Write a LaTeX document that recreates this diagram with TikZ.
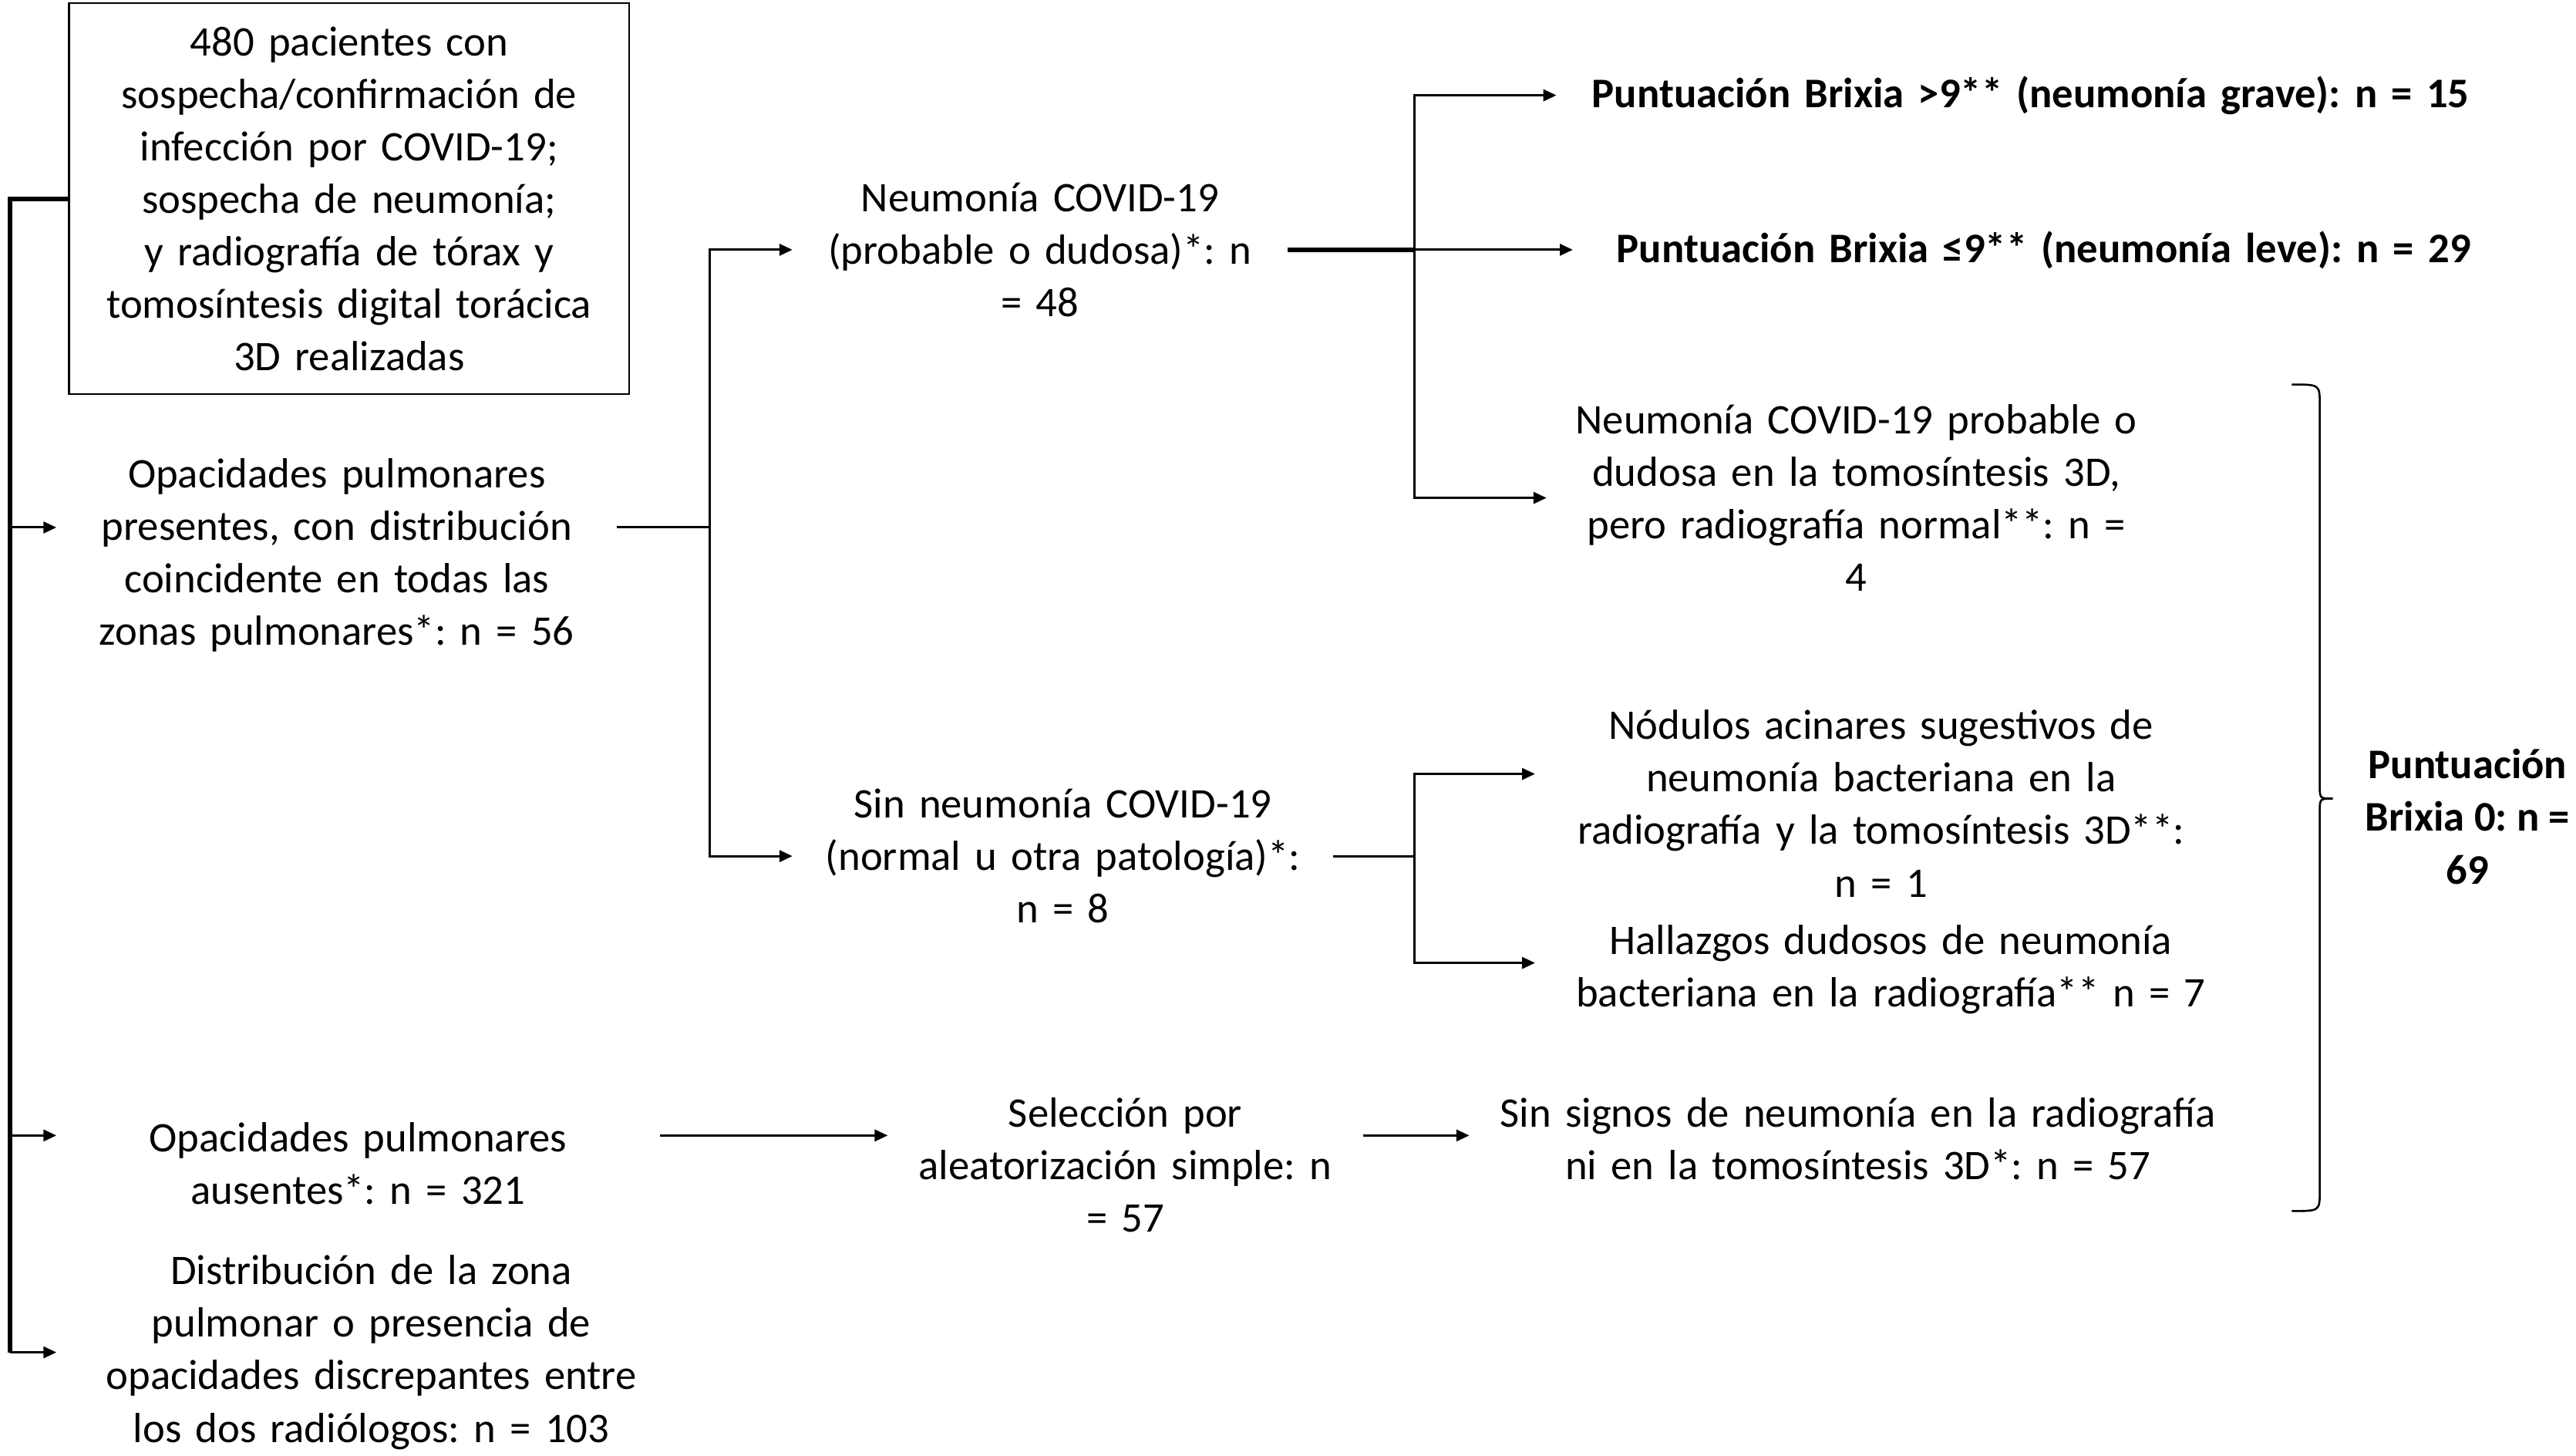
\documentclass[tikz,border=0pt]{standalone}
\usepackage{fontspec}
\setmainfont{Carlito}
\frenchspacing
\usetikzlibrary{arrows.meta,calc}

\begin{document}
\begin{tikzpicture}[x=0.02cm, y=-0.02cm, thick,
		>={Triangle[length=4.5pt,width=4pt]},
		box node/.style={draw,line width=0.6pt,align=center,inner sep=0pt,minimum width=6.82cm,minimum height=4.76cm,text width=6.6cm,font=\fontsize{14.6}{18.2}\selectfont},
		text node/.style={align=center,inner sep=0pt,font=\fontsize{14.6}{18.2}\selectfont},
		bold node/.style={text node,font=\fontsize{14.6}{18.2}\selectfont\bfseries},
		heavy line/.style={line width=1.5pt}]

		\useasboundingbox (0,0) rectangle (1568,886);

		\node[box node] (A) at (212.5,121) {480 pacientes con\\ sospecha/confirmación de\\ infección por COVID-19;\\ sospecha de neumonía;\\ y radiografía de tórax y\\ tomosíntesis digital torácica\\ 3D realizadas};
		\node[text node, text width=6.8cm] (B) at (205,338) {Opacidades pulmonares\\ presentes, con distribución\\ coincidente en todas las\\ zonas pulmonares*: n = 56};
		\node[text node, text width=7.32cm] (C) at (218,708) {Opacidades pulmonares\\ ausentes*: n = 321};
		\node[text node, text width=7.64cm] (D) at (226,823) {Distribución de la zona\\ pulmonar o presencia de\\ opacidades discrepantes entre\\ los dos radiólogos: n = 103};
		\node[text node, text width=6cm] (E) at (633,152) {Neumonía COVID-19\\ (probable o dudosa)*: n\\ = 48};
		\node[text node, text width=6.56cm] (F) at (647,521) {Sin neumonía COVID-19\\ (normal u otra patología)*:\\ n = 8};
		\node[text node, text width=5.76cm] (G) at (685,709) {Selección por\\ aleatorización simple: n\\ = 57};
		\node[bold node, text width=11.52cm] (H) at (1236,58) {Puntuación Brixia >9** (neumonía grave): n = 15};
		\node[bold node, text width=11.44cm] (I) at (1244,152) {Puntuación Brixia ≤9** (neumonía leve): n = 29};
		\node[text node, text width=7.52cm] (J) at (1130,303) {Neumonía COVID-19 probable o\\ dudosa en la tomosíntesis 3D,\\ pero radiografía normal**: n =\\ 4};
		\node[text node, text width=8.4cm] (K) at (1145,489) {Nódulos acinares sugestivos de\\ neumonía bacteriana en la\\ radiografía y la tomosíntesis 3D**:\\ n = 1};
		\node[text node, text width=8.64cm] (L) at (1151,590) {Hallazgos dudosos de neumonía\\ bacteriana en la radiografía** n = 7};
		\node[text node, text width=9.44cm] (M) at (1131,693) {Sin signos de neumonía en la radiografía\\ ni en la tomosíntesis 3D*: n = 57};
		\node[bold node] (N) at (1502,497) {Puntuación\\ Brixia 0: n =\\ 69};

		\coordinate (T) at (6,121);
		\coordinate (P) at (432,321);
		\coordinate (Q) at (861,152);
		\coordinate (R) at (861,521);
		\coordinate (b) at ($(B.west)+(0,-17)$);
		\coordinate (c) at ($(C.west)+(0,-17)$);
		\coordinate (S1) at (1395,234);
		\coordinate (S2) at (1395,737);

		\draw[heavy line] (A.west) -- (T) -- (T |- D.west);
		\draw[->] (T |- b) -- (b);
		\draw[->] (T |- c) -- (c);
		\draw[->] (T |- D.west) -- (D.west);

		\draw (B.east |- P) -- (P);
		\draw[->] (P) |- (E.west);
		\draw[->] (P) |- (F.west);

		\draw[heavy line] (E.east) -- (Q);
		\draw[->] (Q) -- (I.west);
		\draw[->] (Q) |- (H.west);
		\draw[->] (Q) |- (J.west);

		\draw (F.east) -- (R);
		\draw[->] (R) |- ($(K.west)+(0,-18)$);
		\draw[->] (R) |- ($(L.west)+(0,-4)$);

		\draw[->] ($(C.east)+(0,-17)$) -- ($(G.west)+(0,-18)$);
		\draw[->] ($(G.east)+(0,-18)$) -- ($(M.west)+(0,-2)$);

		\draw[line width=0.7pt] (S1) .. controls (1412,234) .. (1412,246) -- (1412,478)
			.. controls (1412,486) .. (1420,486) .. controls (1412,486) .. (1412,494)
			-- (1412,725) .. controls (1412,737) .. (S2);
		\end{tikzpicture}
\end{document}
